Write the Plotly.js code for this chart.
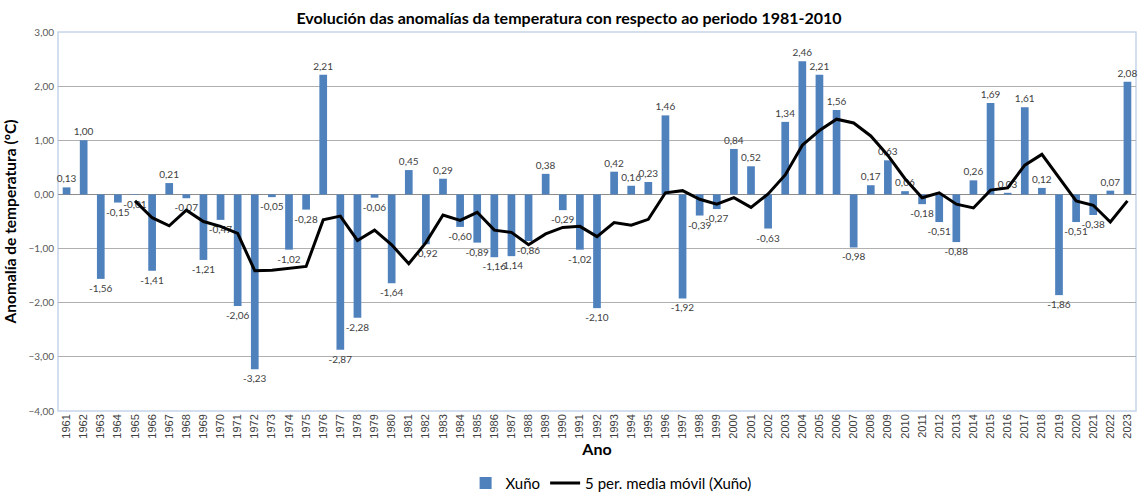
<!DOCTYPE html>
<html>
<head>
<meta charset="utf-8">
<script src="https://cdn.plot.ly/plotly-3.0.1.min.js"></script>
<style>html,body{margin:0;padding:0;background:#fff;}#chart{width:1138px;height:494px;}</style>
</head>
<body>
<div id="chart"></div>
<script>
const years = ["1961","1962","1963","1964","1965","1966","1967","1968","1969","1970",
"1971","1972","1973","1974","1975","1976","1977","1978","1979","1980",
"1981","1982","1983","1984","1985","1986","1987","1988","1989","1990",
"1991","1992","1993","1994","1995","1996","1997","1998","1999","2000",
"2001","2002","2003","2004","2005","2006","2007","2008","2009","2010",
"2011","2012","2013","2014","2015","2016","2017","2018","2019","2020",
"2021","2022","2023"];

const anomalies = [0.13,1.00,-1.56,-0.15,-0.01,-1.41,0.21,-0.07,-1.21,-0.47,
-2.06,-3.23,-0.05,-1.02,-0.28,2.21,-2.87,-2.28,-0.06,-1.64,
0.45,-0.92,0.29,-0.60,-0.89,-1.16,-1.14,-0.86,0.38,-0.29,
-1.02,-2.10,0.42,0.16,0.23,1.46,-1.92,-0.39,-0.27,0.84,
0.52,-0.63,1.34,2.46,2.21,1.56,-0.98,0.17,0.63,0.06,
-0.18,-0.51,-0.88,0.26,1.69,0.03,1.61,0.12,-1.86,-0.51,
-0.38,0.07,2.08];

const maYears = years.slice(4);
const movingAvg = [-0.12,-0.43,-0.58,-0.29,-0.50,-0.59,-0.72,-1.41,-1.40,-1.37,
-1.33,-0.47,-0.40,-0.85,-0.66,-0.93,-1.28,-0.89,-0.38,-0.48,
-0.33,-0.66,-0.70,-0.93,-0.73,-0.61,-0.59,-0.78,-0.52,-0.57,
-0.46,0.03,0.07,-0.09,-0.18,-0.06,-0.24,0.01,0.36,0.91,
1.18,1.39,1.32,1.08,0.72,0.29,-0.06,0.03,-0.18,-0.25,
0.08,0.12,0.54,0.74,0.32,-0.12,-0.20,-0.51,-0.12];

const yTicks = [-4,-3,-2,-1,0,1,2,3];

const traces = [
  {
    type: 'bar',
    name: 'Xuño',
    x: years,
    y: anomalies,
    marker: {color: '#4F81BD'},
    texttemplate: '%{y:.2f}',
    textposition: 'outside',
    textangle: 0,
    constraintext: 'none',
    cliponaxis: false,
    textfont: {family: 'Lato, sans-serif', size: 10, color: '#404040'},
    hoverinfo: 'x+y'
  },
  {
    type: 'scatter',
    mode: 'lines',
    name: '5 per. media móvil (Xuño)',
    x: maYears,
    y: movingAvg,
    line: {color: '#000000', width: 3}
  }
];

const layout = {
  width: 1138,
  height: 494,
  separators: ',.',
  paper_bgcolor: '#ffffff',
  plot_bgcolor: '#ffffff',
  margin: {l: 58, r: 2, t: 32, b: 83},
  bargap: 0.55,
  showlegend: true,
  title: {
    text: 'Evolución das anomalías da temperatura con respecto ao periodo 1981-2010',
    font: {family: 'Lato, sans-serif', size: 16, color: '#000000', weight: 'bold'},
    x: 0.5, xanchor: 'center',
    y: 0.963, yanchor: 'middle', yref: 'container'
  },
  xaxis: {
    type: 'category',
    tickangle: -90,
    tickfont: {family: 'Liberation Sans, Arial, sans-serif', size: 11, color: '#404040'},
    showgrid: false,
    zeroline: false,
    ticks: '',
    showline: false,
    title: {text: 'Ano', font: {family: 'Lato, sans-serif', size: 16, color: '#000000', weight: 'bold'}, standoff: 4}
  },
  yaxis: {
    range: [-4, 3],
    tickvals: yTicks,
    tickformat: '.2f',
    tickfont: {family: 'Lato, sans-serif', size: 10, color: '#595959'},
    gridcolor: '#b0b0b0',
    gridwidth: 1,
    zeroline: true,
    zerolinecolor: '#8c8c8c',
    zerolinewidth: 1,
    showline: false,
    ticks: '',
    ticklabelstandoff: 3,
    title: {text: 'Anomalía de temperatura (ºC)', font: {family: 'Lato, sans-serif', size: 15.5, color: '#000000', weight: 'bold'}, standoff: 8}
  },
  legend: {
    orientation: 'h',
    x: 0.537, xanchor: 'center',
    xref: 'container',
    y: 0.022, yanchor: 'middle', yref: 'container',
    font: {family: 'Lato, sans-serif', size: 15, color: '#000000'},
    itemwidth: 30
  },
  shapes: [
    {type: 'rect', xref: 'paper', yref: 'paper', x0: 0, x1: 1, y0: 0, y1: 1,
     line: {color: '#c5d5ea', width: 1.5}, fillcolor: 'rgba(0,0,0,0)', layer: 'below'}
  ]
};

Plotly.newPlot('chart', traces, layout, {displayModeBar: false, staticPlot: true});
</script>
</body>
</html>
